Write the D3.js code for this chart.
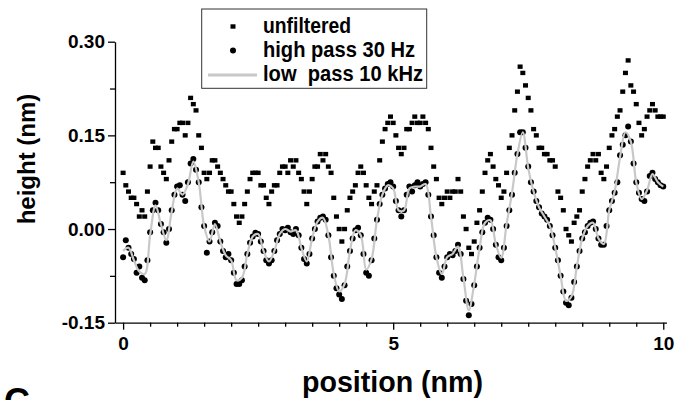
<!DOCTYPE html>
<html>
<head>
<meta charset="utf-8">
<script src="https://cdn.jsdelivr.net/npm/d3@7"></script>
<style>
  body { margin: 0; background: #fff; }
  svg { display: block; }
  text { font-family: "Liberation Sans", Arial, Helvetica, sans-serif; font-weight: bold; fill: #000; }
</style>
</head>
<body>
<svg id="chart" width="675" height="400"></svg>
<script>
// Height profiles along a 10 nm scan line, sampled every 0.05 nm (0 … 10 nm)
const positionStep = 0.05;

const unfiltered = [
  0.09, 0.07, 0.06, 0.05, 0.05, 0.04, 0.02, 0.03, 0.02, 0.06,
  0.10, 0.14, 0.13, 0.13, 0.10, 0.09, 0.08, 0.11, 0.14, 0.16,
  0.16, 0.17, 0.17, 0.15, 0.17, 0.21, 0.20, 0.19, 0.15, 0.13,
  0.09, 0.08, 0.09, 0.11, 0.11, 0.10, 0.09, 0.08, 0.07, 0.06,
  0.06, 0.04, 0.02, 0.01, 0.02, 0.04, 0.06, 0.08, 0.09, 0.09,
  0.09, 0.07, 0.07, 0.05, 0.04, 0.06, 0.07, 0.07, 0.09, 0.10,
  0.10, 0.09, 0.11, 0.10, 0.11, 0.09, 0.08, 0.06, 0.04, 0.06,
  0.08, 0.10, 0.10, 0.12, 0.11, 0.12, 0.10, 0.09, 0.05, 0.02,
  0.00, -0.02, 0.00, 0.03, 0.05, 0.06, 0.07, 0.09, 0.10, 0.09,
  0.07, 0.05, 0.04, 0.06, 0.07, 0.11, 0.14, 0.16, 0.17, 0.18,
  0.17, 0.15, 0.13, 0.12, 0.13, 0.16, 0.16, 0.17, 0.18, 0.17,
  0.17, 0.18, 0.17, 0.16, 0.13, 0.10, 0.08, 0.05, 0.04, 0.05,
  0.06, 0.05, 0.06, 0.06, 0.08, 0.06, 0.02, 0.00, -0.03, -0.04,
  -0.02, 0.01, 0.03, 0.06, 0.09, 0.11, 0.12, 0.10, 0.08, 0.07,
  0.05, 0.06, 0.09, 0.13, 0.15, 0.19, 0.22, 0.26, 0.25, 0.23,
  0.21, 0.19, 0.16, 0.15, 0.13, 0.13, 0.12, 0.12, 0.11, 0.11,
  0.10, 0.06, 0.05, 0.03, 0.00, -0.01, -0.02, 0.01, 0.02, 0.03,
  0.06, 0.08, 0.10, 0.11, 0.12, 0.11, 0.12, 0.09, 0.08, 0.10,
  0.13, 0.15, 0.16, 0.18, 0.19, 0.22, 0.25, 0.27, 0.23, 0.22,
  0.20, 0.17, 0.15, 0.16, 0.18, 0.19, 0.20, 0.19, 0.18, 0.18,
  0.18
];

const highPass = [
  -0.045, -0.018, -0.030, -0.040, -0.048, -0.070, -0.060, -0.078, -0.082, -0.050,
  -0.005, 0.030, 0.042, 0.030, 0.008, -0.005, -0.022, 0.000, 0.030, 0.055,
  0.068, 0.070, 0.055, 0.045, 0.075, 0.105, 0.112, 0.095, 0.075, 0.035,
  0.005, -0.038, -0.020, -0.005, 0.010, 0.005, -0.020, -0.035, -0.045, -0.040,
  -0.050, -0.070, -0.088, -0.088, -0.082, -0.060, -0.040, -0.022, -0.012, -0.006,
  -0.008, -0.020, -0.035, -0.050, -0.055, -0.050, -0.035, -0.018, -0.008, 0.000,
  -0.002, 0.002, -0.005, -0.008, 0.000, -0.010, -0.030, -0.048, -0.055, -0.040,
  -0.015, 0.000, 0.012, 0.018, 0.020, 0.015, -0.010, -0.045, -0.075, -0.095,
  -0.105, -0.112, -0.090, -0.060, -0.035, -0.015, -0.002, 0.002, -0.010, -0.040,
  -0.070, -0.075, -0.050, -0.015, 0.015, 0.040, 0.055, 0.065, 0.072, 0.075,
  0.068, 0.045, 0.030, 0.020, 0.030, 0.055, 0.068, 0.060, 0.070, 0.075,
  0.068, 0.072, 0.075, 0.055, 0.020, -0.010, -0.045, -0.070, -0.078, -0.060,
  -0.045, -0.040, -0.042, -0.035, -0.025, -0.040, -0.080, -0.115, -0.138, -0.120,
  -0.090, -0.060, -0.030, -0.005, 0.010, 0.018, 0.015, 0.000, -0.025, -0.045,
  -0.050, -0.030, 0.005, 0.030, 0.055, 0.090, 0.120, 0.155, 0.155, 0.130,
  0.100, 0.075, 0.060, 0.045, 0.035, 0.025, 0.020, 0.015, 0.005, -0.010,
  -0.030, -0.050, -0.075, -0.100, -0.118, -0.122, -0.110, -0.085, -0.060, -0.035,
  -0.015, -0.005, 0.005, 0.010, 0.012, 0.000, -0.015, -0.025, -0.025, 0.005,
  0.030, 0.045, 0.058, 0.075, 0.118, 0.135, 0.150, 0.164, 0.140, 0.105,
  0.075, 0.058, 0.048, 0.045, 0.060, 0.085, 0.090, 0.080, 0.075, 0.070,
  0.068
];

// Low-pass trace, sampled every 0.1 nm
const lowPassStep = 0.1;
const lowPass = [
  -0.035, -0.030, -0.050, -0.068, -0.072, -0.010, 0.038, 0.008, -0.018, 0.028,
  0.065, 0.055, 0.072, 0.108, 0.075, 0.005, -0.020, 0.008, -0.020, -0.042,
  -0.050, -0.082, -0.078, -0.040, -0.012, -0.008, -0.035, -0.052, -0.035, -0.008,
  0.000, -0.004, -0.002, -0.030, -0.052, -0.015, 0.012, 0.018, -0.010, -0.072,
  -0.100, -0.088, -0.035, -0.002, -0.010, -0.065, -0.048, 0.015, 0.055, 0.070,
  0.065, 0.030, 0.030, 0.065, 0.068, 0.068, 0.072, 0.020, -0.045, -0.072,
  -0.045, -0.040, -0.028, -0.078, -0.130, -0.088, -0.030, 0.010, 0.014, -0.024,
  -0.046, 0.008, 0.058, 0.120, 0.155, 0.098, 0.060, 0.035, 0.020, 0.005,
  -0.030, -0.075, -0.115, -0.108, -0.060, -0.015, 0.005, 0.010, -0.015, -0.024,
  0.030, 0.060, 0.115, 0.155, 0.140, 0.075, 0.048, 0.062, 0.088, 0.075,
  0.068
];

const xMajorTicks = [0, 5, 10];
const xTickLabels = ["0", "5", "10"];
const yMajorTicks = [-0.15, 0.00, 0.15, 0.30];
const yTickLabels = ["-0.15", "0.00", "0.15", "0.30"];
const yMinorTicks = [-0.075, 0.075, 0.225];
const legendLabels = ["unfiltered", "high pass 30 Hz", "low\u00a0 pass 10 kHz"];

const svg = d3.select("#chart");

const x = d3.scaleLinear().domain([-0.15, 10.06]).range([115, 666.5]);
const y = d3.scaleLinear().domain([-0.15, 0.30]).range([322.7, 41.7]);

const toPoints = (vals, step) => vals.map((v, i) => ({ x: i * step, y: v }));
const unfPts = toPoints(unfiltered, positionStep);
const hpPts = toPoints(highPass, positionStep);
const lpPts = toPoints(lowPass, lowPassStep);

// ---- axes ----
const xMinorTicks = d3.range(0, 10.001, 0.5).filter(v => !xMajorTicks.includes(v));

const axisStyle = g => {
  g.selectAll(".domain, line").attr("stroke", "#000").attr("stroke-width", 1.3);
  g.selectAll("text").style("font-size", "19px").attr("fill", "#000");
};

svg.append("g")
  .attr("transform", `translate(0,${y(-0.15)})`)
  .call(d3.axisBottom(x).tickValues(xMinorTicks).tickSize(4).tickSizeOuter(0).tickFormat(""))
  .call(axisStyle);

svg.append("g")
  .attr("transform", `translate(0,${y(-0.15)})`)
  .call(d3.axisBottom(x).tickValues(xMajorTicks).tickSize(7).tickPadding(7).tickSizeOuter(0)
    .tickFormat((d, i) => xTickLabels[i]))
  .call(axisStyle)
  .call(g => g.select(".domain").remove());

svg.append("g")
  .attr("transform", `translate(${x(-0.15)},0)`)
  .call(d3.axisLeft(y).tickValues(yMinorTicks).tickSize(5).tickSizeOuter(0).tickFormat(""))
  .call(axisStyle);

svg.append("g")
  .attr("transform", `translate(${x(-0.15)},0)`)
  .call(d3.axisLeft(y).tickValues(yMajorTicks).tickSize(7).tickPadding(3).tickSizeOuter(0)
    .tickFormat((d, i) => yTickLabels[i]))
  .call(axisStyle)
  .call(g => g.select(".domain").remove());

// ---- series ----
const sqW = 5, sqH = 4.4;
const dotR = 3;
svg.append("g").selectAll("rect")
  .data(unfPts).join("rect")
  .attr("x", d => x(d.x) - sqW / 2)
  .attr("y", d => y(d.y) - sqH / 2)
  .attr("width", sqW).attr("height", sqH)
  .attr("fill", "#000");

svg.append("g").selectAll("circle")
  .data(hpPts).join("circle")
  .attr("cx", d => x(d.x))
  .attr("cy", d => y(d.y))
  .attr("r", dotR)
  .attr("fill", "#000");

svg.append("path")
  .datum(lpPts)
  .attr("fill", "none")
  .attr("stroke", "#c8c8c8")
  .attr("stroke-width", 2.2)
  .attr("stroke-linejoin", "round")
  .attr("d", d3.line().x(d => x(d.x)).y(d => y(d.y)).curve(d3.curveCatmullRom.alpha(0.5)));

// ---- axis titles ----
svg.append("text")
  .attr("x", 392.5).attr("y", 392)
  .attr("text-anchor", "middle")
  .attr("textLength", 181).attr("lengthAdjust", "spacingAndGlyphs")
  .style("font-size", "30px")
  .text("position (nm)");

svg.append("text")
  .attr("transform", "translate(35,159) rotate(-90)")
  .attr("text-anchor", "middle")
  .style("font-size", "24px")
  .text("height (nm)");

// panel letter
svg.append("text")
  .attr("x", 4).attr("y", 414)
  .style("font-size", "36px")
  .text("C");

// ---- legend ----
const legend = svg.append("g");
legend.append("rect")
  .attr("x", 201.7).attr("y", 9).attr("width", 225).attr("height", 79.3)
  .attr("fill", "#fff").attr("stroke", "#333").attr("stroke-width", 1);

const rowY = [26.5, 50.5, 75];
const textLens = [88, 152, 160];
legend.append("rect")
  .attr("x", 233 - sqW / 2).attr("y", rowY[0] - sqH / 2)
  .attr("width", sqW).attr("height", sqH).attr("fill", "#000");
legend.append("circle")
  .attr("cx", 233).attr("cy", rowY[1]).attr("r", dotR).attr("fill", "#000");
legend.append("line")
  .attr("x1", 208).attr("x2", 257).attr("y1", rowY[2]).attr("y2", rowY[2])
  .attr("stroke", "#c8c8c8").attr("stroke-width", 3);

legend.selectAll("text.lab")
  .data(legendLabels).join("text")
  .attr("class", "lab")
  .attr("x", 263)
  .attr("y", (d, i) => rowY[i] + 6)
  .attr("textLength", (d, i) => textLens[i])
  .attr("lengthAdjust", "spacingAndGlyphs")
  .style("font-size", "22px")
  .text(d => d);
</script>
</body>
</html>
